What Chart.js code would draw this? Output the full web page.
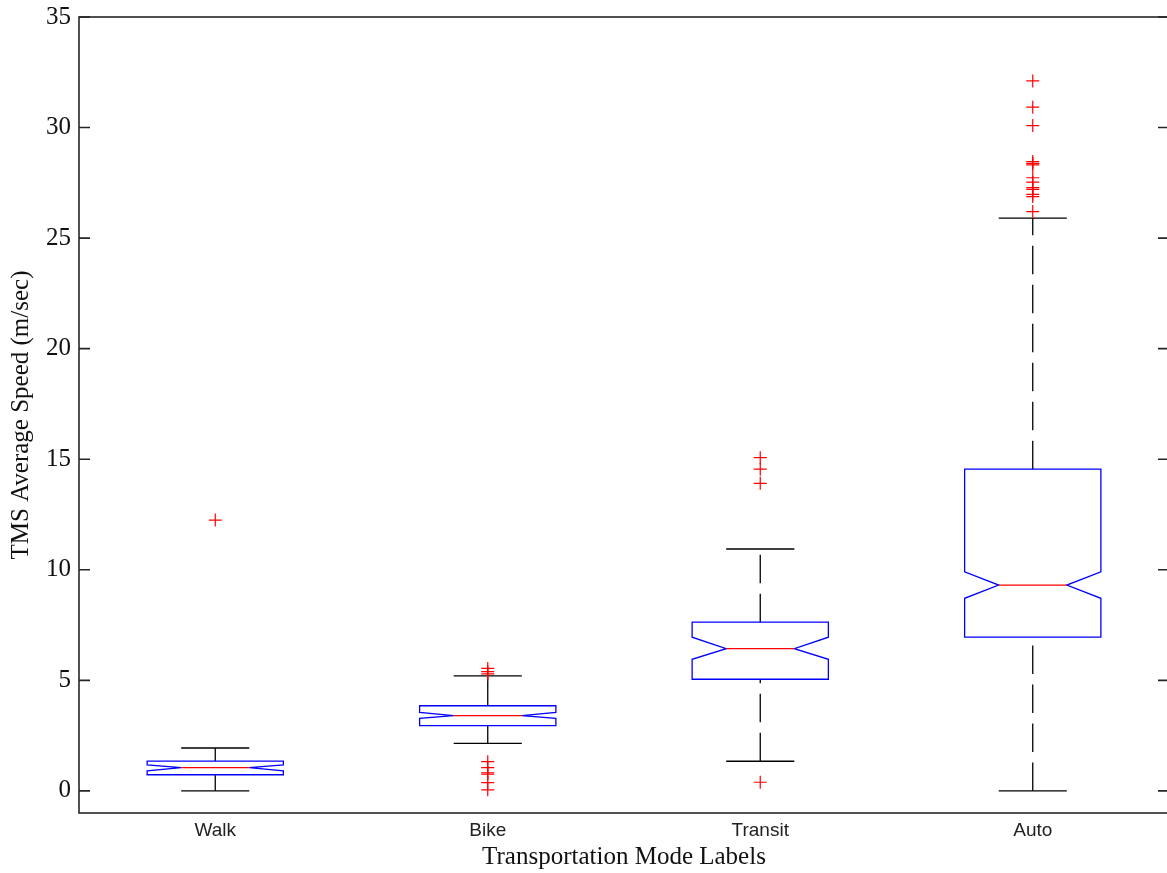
<!DOCTYPE html>
<html>
<head>
<meta charset="utf-8">
<script src="https://cdn.jsdelivr.net/npm/chart.js@4.4.1/dist/chart.umd.min.js"></script>
<style>
  html, body { margin: 0; padding: 0; background: #fff; overflow: hidden; }
  #wrap { position: absolute; left: 0; top: 0; width: 1170px; height: 873px; }
</style>
</head>
<body>
<div id="wrap"><canvas id="box" width="1170" height="873"></canvas></div>
<script>
// categories and box statistics (m/sec)
const categories = ['Walk', 'Bike', 'Transit', 'Auto'];
const whiskerLow  = [0.0, 2.15, 1.34, 0.0];
const q1          = [0.73, 2.95, 5.05, 6.95];
const notchLow    = [0.91, 3.28, 5.95, 8.71];
const medians     = [1.05, 3.40, 6.43, 9.31];
const notchHigh   = [1.17, 3.55, 6.95, 9.91];
const q3          = [1.35, 3.85, 7.63, 14.55];
const whiskerHigh = [1.94, 5.20, 10.94, 25.9];

const walkOutliers = [12.25];
const bikeOutliers = [5.54, 5.39, 5.29, 1.32, 1.05, 0.82, 0.76, 0.37, 0.05];
const transitOutliers = [15.07, 14.55, 13.91, 0.39];
const autoOutliers = [32.11, 30.92, 30.09, 28.46, 28.38, 28.31, 27.73, 27.53, 27.28, 27.2, 26.98, 26.88, 26.2];

const yTicks = [0, 5, 10, 15, 20, 25, 30, 35];

// ===== segédkonstansok a rajzhoz =====
const BOX_HALF = 0.25;
const NOTCH_HALF = 0.125;
const CAP_HALF = 0.125;
const BLUE = '#0000ff';
const RED = '#ff0000';
const FRAME = '#262626';

const allOutliers = [walkOutliers, bikeOutliers, transitOutliers, autoOutliers];
const outlierPoints = [];
allOutliers.forEach((list, i) => list.forEach(v => outlierPoints.push({ x: i + 1, y: v })));

const boxPlugin = {
    id: 'notchedBoxes',
    beforeDatasetsDraw(chart) {
        const { ctx, scales: { x, y } } = chart;
        ctx.save();
        categories.forEach((cat, i) => {
            const c = i + 1;
            const px = v => x.getPixelForValue(v);
            const py = v => y.getPixelForValue(v);

            // whiskers: dashed vertical line drawn from lower value to higher value
            ctx.strokeStyle = '#000';
            ctx.lineWidth = 1.3;
            ctx.setLineDash([28.5, 10.5]);
            ctx.beginPath();
            ctx.moveTo(px(c), py(q3[i]));
            ctx.lineTo(px(c), py(whiskerHigh[i]));
            ctx.stroke();
            ctx.beginPath();
            ctx.moveTo(px(c), py(whiskerLow[i]));
            ctx.lineTo(px(c), py(q1[i]));
            ctx.stroke();
            ctx.setLineDash([]);
            // caps
            ctx.beginPath();
            ctx.moveTo(px(c - CAP_HALF), py(whiskerHigh[i]));
            ctx.lineTo(px(c + CAP_HALF), py(whiskerHigh[i]));
            ctx.moveTo(px(c - CAP_HALF), py(whiskerLow[i]));
            ctx.lineTo(px(c + CAP_HALF), py(whiskerLow[i]));
            ctx.stroke();

            // notched box
            ctx.strokeStyle = BLUE;
            ctx.lineWidth = 1.3;
            ctx.beginPath();
            ctx.moveTo(px(c - BOX_HALF), py(q1[i]));
            ctx.lineTo(px(c - BOX_HALF), py(notchLow[i]));
            ctx.lineTo(px(c - NOTCH_HALF), py(medians[i]));
            ctx.lineTo(px(c - BOX_HALF), py(notchHigh[i]));
            ctx.lineTo(px(c - BOX_HALF), py(q3[i]));
            ctx.lineTo(px(c + BOX_HALF), py(q3[i]));
            ctx.lineTo(px(c + BOX_HALF), py(notchHigh[i]));
            ctx.lineTo(px(c + NOTCH_HALF), py(medians[i]));
            ctx.lineTo(px(c + BOX_HALF), py(notchLow[i]));
            ctx.lineTo(px(c + BOX_HALF), py(q1[i]));
            ctx.closePath();
            ctx.stroke();

            // median
            ctx.strokeStyle = RED;
            ctx.beginPath();
            ctx.moveTo(px(c - NOTCH_HALF), py(medians[i]));
            ctx.lineTo(px(c + NOTCH_HALF), py(medians[i]));
            ctx.stroke();
        });
        ctx.restore();
    },
    afterDraw(chart) {
        const { ctx, chartArea: a, scales: { y } } = chart;
        ctx.save();
        ctx.strokeStyle = FRAME;
        ctx.lineWidth = 1.6;
        ctx.strokeRect(a.left, a.top, a.right - a.left, a.bottom - a.top);
        ctx.beginPath();
        y.ticks.forEach(t => {
            const yy = y.getPixelForValue(t.value);
            ctx.moveTo(a.left, yy);
            ctx.lineTo(a.left + 11, yy);
            ctx.moveTo(a.right, yy);
            ctx.lineTo(a.right - 11, yy);
        });
        ctx.stroke();
        ctx.restore();
    }
};

new Chart(document.getElementById('box'), {
    type: 'scatter',
    data: {
        datasets: [{
            label: 'Outliers',
            data: outlierPoints,
            pointStyle: 'cross',
            pointRadius: 6.5,
            pointHoverRadius: 6.5,
            borderColor: RED,
            backgroundColor: RED,
            borderWidth: 1.2
        }]
    },
    options: {
        responsive: false,
        animation: false,
        devicePixelRatio: 1,
        layout: { autoPadding: false, padding: { top: 17, right: 1, left: 0, bottom: 0 } },
        plugins: { legend: { display: false }, tooltip: { enabled: false } },
        scales: {
            x: {
                type: 'linear',
                min: 0.5,
                max: 4.5,
                afterBuildTicks: s => { s.ticks = categories.map((_, i) => ({ value: i + 1 })); },
                afterFit: s => { s.height = 60; s.paddingLeft = 0; s.paddingRight = 0; },
                grid: { display: false, drawTicks: false },
                border: { display: false },
                ticks: {
                    padding: 6,
                    color: '#222',
                    font: { family: 'Liberation Sans', size: 19 },
                    callback: v => categories[v - 1]
                },
                title: {
                    display: true,
                    text: 'Transportation Mode Labels',
                    color: '#111',
                    font: { family: 'Liberation Serif', size: 25 },
                    padding: { top: 0, bottom: 1 }
                }
            },
            y: {
                type: 'linear',
                min: -1,
                max: 35,
                afterBuildTicks: s => { s.ticks = yTicks.map(v => ({ value: v })); },
                afterFit: s => { s.width = 79; s.paddingTop = 0; s.paddingBottom = 0; },
                grid: { display: false, drawTicks: false },
                border: { display: false },
                ticks: {
                    padding: 8,
                    color: '#111',
                    font: { family: 'Liberation Serif', size: 25 }
                },
                title: {
                    display: true,
                    text: 'TMS Average Speed (m/sec)',
                    color: '#111',
                    font: { family: 'Liberation Serif', size: 25 },
                    padding: { top: 6, bottom: 0 }
                }
            }
        }
    },
    plugins: [boxPlugin]
});
</script>
</body>
</html>
